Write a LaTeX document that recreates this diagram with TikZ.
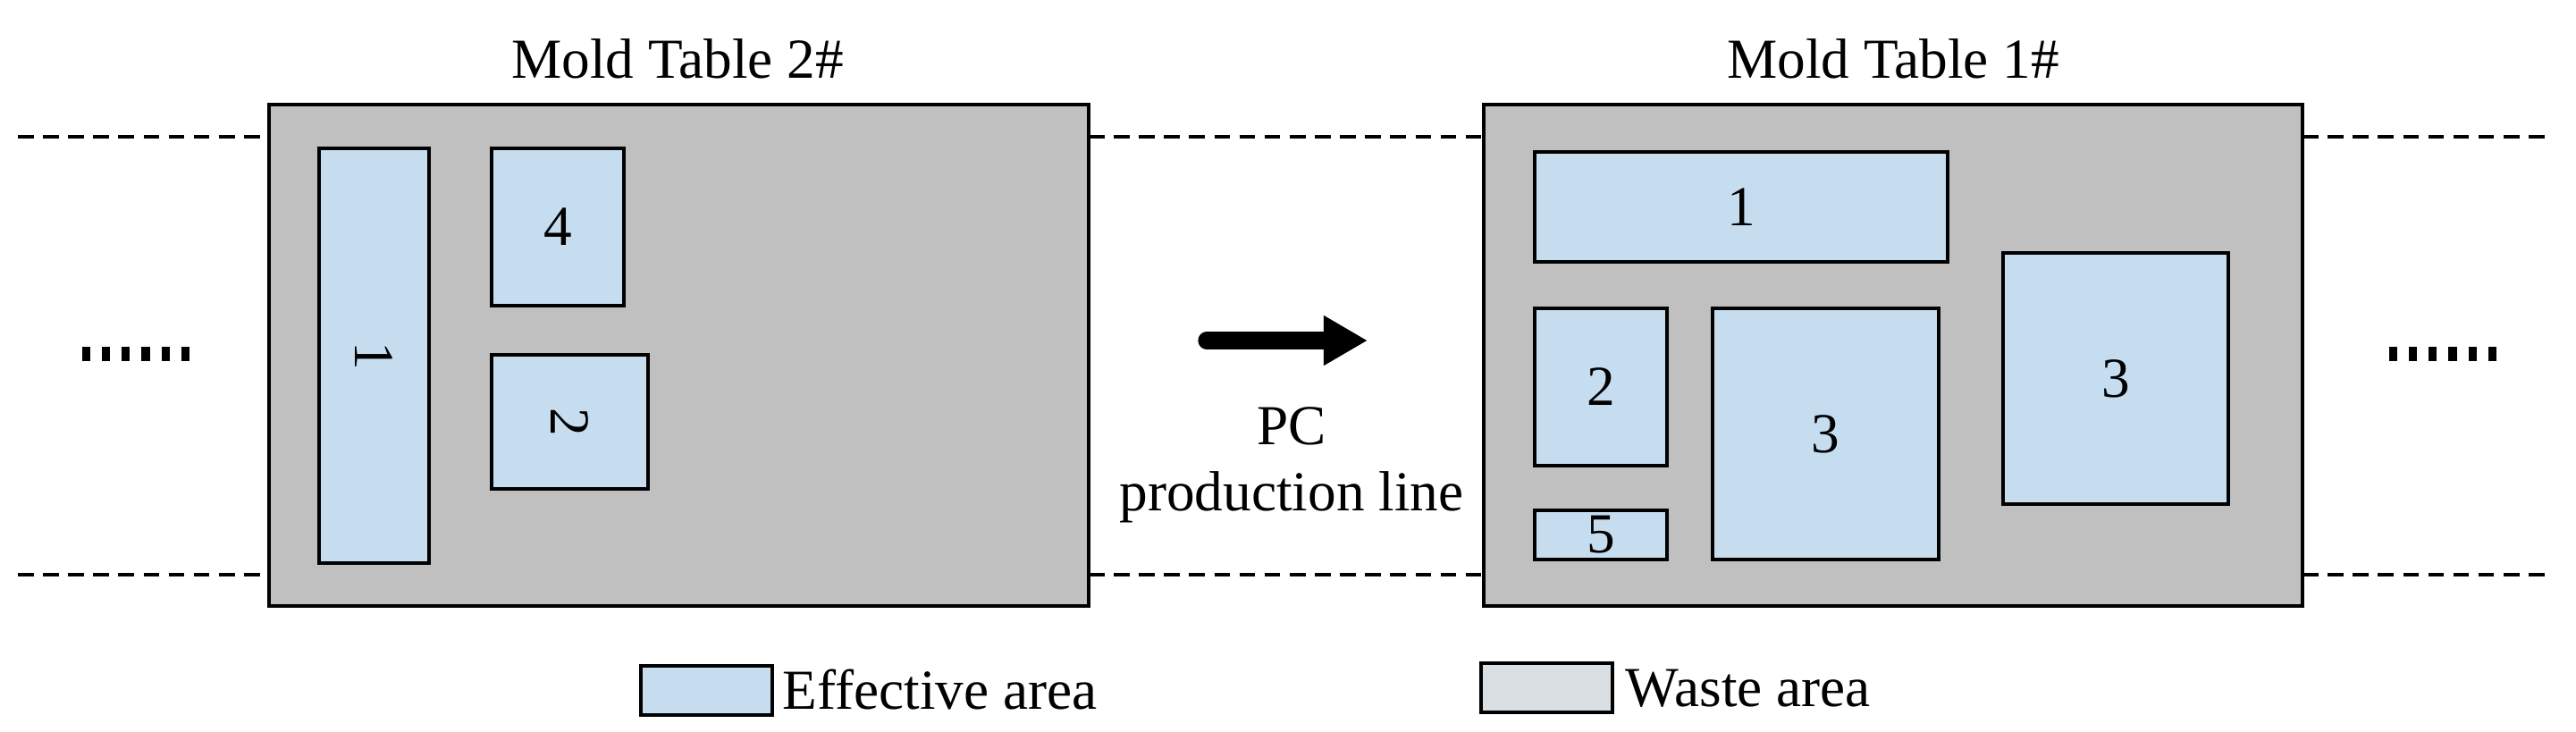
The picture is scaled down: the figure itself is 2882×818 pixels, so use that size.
\documentclass[tikz,border=0pt]{standalone}
\usepackage{fontspec}
\setmainfont{Liberation Serif}
\usetikzlibrary{arrows.meta}
\definecolor{waste}{HTML}{C0C0C0}
\definecolor{eff}{HTML}{C6DDF0}
\definecolor{wlegend}{HTML}{D9DEE2}
\begin{document}
\begin{tikzpicture}[x=0.1mm,y=-0.1mm,
  tbl/.style={draw=black,line width=1.3pt,fill=waste},
  pc/.style={draw=black,line width=1.3pt,fill=eff},
  lbl/.style={font=\fontsize{18}{21}\selectfont},
  dashln/.style={line width=1pt,dash pattern=on 5pt off 3pt},
  dotln/.style={line width=4.5pt,dash pattern=on 2.6pt off 3.7pt}]
\useasboundingbox (0,0) rectangle (2882,818);
% dashed lines
\foreach \y in {153,643}{
 \draw[dashln] (20,\y) -- (301,\y);
 \draw[dashln] (1218,\y) -- (1660,\y);
 \draw[dashln] (2576,\y) -- (2852,\y);}
% table 2
\node[lbl] (t2) at (758,66) {Mold Table 2\#};
\draw[tbl] (301,117) rectangle (1218,678);
\draw[pc] (357,166) rectangle (480,630) node[midway,lbl,rotate=-90] (a1) {1};
\draw[pc] (550,166) rectangle (698,342) node[midway,lbl] (a4) {4};
\draw[pc] (550,397) rectangle (725,547) node[midway,lbl,rotate=-90] (a2) {2};
% table 1
\node[lbl] (t1) at (2118,66) {Mold Table 1\#};
\draw[tbl] (1660,117) rectangle (2576,678);
\draw[pc] (1717,170) rectangle (2179,293) node[midway,lbl] (b1) {1};
\draw[pc] (1717,345) rectangle (1865,521) node[midway,lbl] (b2) {2};
\draw[pc] (1717,571) rectangle (1865,626) node[midway,lbl] (b5) {5};
\draw[pc] (1916,345) rectangle (2169,626) node[midway,lbl] (b3) {3};
\draw[pc] (2241,283) rectangle (2493,564) node[midway,lbl] (c3) {3};
% dots
\coordinate (d1a) at (92,396); \coordinate (d1b) at (212,396);
\coordinate (d2a) at (2673,396); \coordinate (d2b) at (2793,396);
\draw[dotln] (d1a) -- (d1b);
\draw[dotln] (d2a) -- (d2b);
% arrow
\coordinate (as) at (1350,381);
\coordinate (ae) at (1530,381);
\draw[line width=5.5pt,line cap=round,-{Triangle[length=14pt,width=15pt]}] (as) -- (ae);
\node[align=center,font=\fontsize{18}{21}\selectfont] (pcl) at (1445,520) {PC\\production line};
% legend
\draw[pc] (717,745) rectangle (864,800);
\node[lbl,anchor=west,inner sep=0] (le) at (875,772) {Effective area};
\draw[draw=black,line width=1.3pt,fill=wlegend] (1657,742) rectangle (1804,797);
\node[lbl,anchor=west,inner sep=0] (lw) at (1818,770) {Waste area};
\end{tikzpicture}
\end{document}
